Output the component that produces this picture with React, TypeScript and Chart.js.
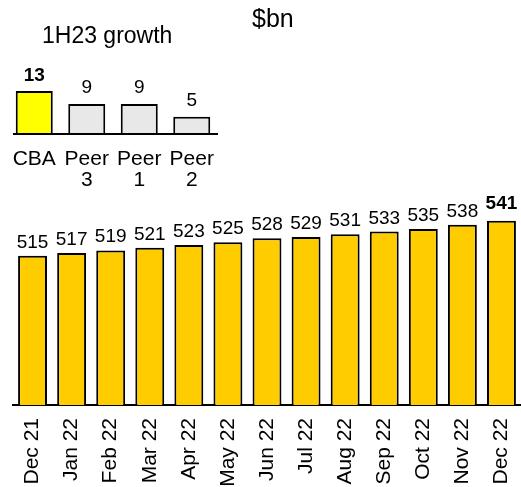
import React, { useEffect, useRef } from 'react';
import { Chart, registerables } from 'chart.js';

Chart.register(...registerables);

const FONT = '"Liberation Sans", Arial, Helvetica, sans-serif';

// ---- data ----
const months = ['Dec 21', 'Jan 22', 'Feb 22', 'Mar 22', 'Apr 22', 'May 22', 'Jun 22', 'Jul 22', 'Aug 22', 'Sep 22', 'Oct 22', 'Nov 22', 'Dec 22'];
const balances = [515, 517, 519, 521, 523, 525, 528, 529, 531, 533, 535, 538, 541];
const peerLabels: (string | string[])[] = ['CBA', ['Peer', '3'], ['Peer', '1'], ['Peer', '2']];
const growth = [13, 9, 9, 5];
const unitTitle = '$bn';
const insetTitle = '1H23 growth';

function makeValueLabels(size: number, gap: number, gapBold: number, boldIndex: number) {
  return {
    id: 'valueLabels',
    afterDatasetsDraw(chart: any) {
      const { ctx } = chart;
      const meta = chart.getDatasetMeta(0);
      const data = chart.data.datasets[0].data as number[];
      ctx.save();
      ctx.textAlign = 'center';
      ctx.textBaseline = 'alphabetic';
      ctx.fillStyle = '#000';
      meta.data.forEach((bar: any, i: number) => {
        const bold = i === boldIndex;
        ctx.font = `${bold ? 'bold ' : ''}${size}px ${FONT}`;
        ctx.fillText(String(data[i]), bar.x, bar.y - (bold ? gapBold : gap));
      });
      ctx.restore();
    },
  };
}

const titlesPlugin = {
  id: 'titles',
  afterDraw(chart: any) {
    const { ctx } = chart;
    ctx.save();
    ctx.fillStyle = '#000';
    ctx.textBaseline = 'alphabetic';
    ctx.textAlign = 'left';
    ctx.font = `25px ${FONT}`;
    ctx.fillText(unitTitle, 252, 27);
    ctx.font = `23px ${FONT}`;
    ctx.fillText(insetTitle, 42, 43);
    ctx.restore();
  },
};

const insetAxisLine = {
  id: 'insetAxisLine',
  afterDatasetsDraw(chart: any) {
    const { ctx, chartArea } = chart;
    ctx.save();
    ctx.strokeStyle = '#000';
    ctx.lineWidth = 2;
    ctx.beginPath();
    ctx.moveTo(chartArea.left + 5, chartArea.bottom + 1);
    ctx.lineTo(chartArea.right, chartArea.bottom + 1);
    ctx.stroke();
    ctx.restore();
  },
};

export default function App() {
  const mainRef = useRef<HTMLCanvasElement>(null);
  const insetRef = useRef<HTMLCanvasElement>(null);

  useEffect(() => {
    Chart.defaults.font.family = FONT;
    const main = new Chart(mainRef.current!, {
      type: 'bar',
      data: {
        labels: months,
        datasets: [
          {
            data: balances,
            backgroundColor: '#FFCC00',
            borderColor: '#000',
            borderWidth: 2,
            barPercentage: 0.74,
            categoryPercentage: 1,
          },
        ],
      },
      options: {
        responsive: false,
        animation: false,
        layout: { padding: { top: 200, left: 13, right: 0, bottom: 0 } },
        plugins: { legend: { display: false }, tooltip: { enabled: false } },
        scales: {
          x: {
            grid: { display: false, drawTicks: false },
            border: { display: true, color: '#000', width: 2 },
            ticks: {
              color: '#000',
              font: { size: 21, family: FONT },
              minRotation: 90,
              maxRotation: 90,
              padding: 13,
              autoSkip: false,
            },
            afterFit: (s: any) => {
              s.height = 82;
              s.paddingLeft = 0;
              s.paddingRight = 0;
            },
          },
          y: { display: false, min: 404, max: 556.5 },
        },
      },
      plugins: [makeValueLabels(19, 8, 12, balances.length - 1), titlesPlugin],
    });

    const inset = new Chart(insetRef.current!, {
      type: 'bar',
      data: {
        labels: peerLabels,
        datasets: [
          {
            data: growth,
            backgroundColor: ['#FFFF00', '#E8E8E8', '#E8E8E8', '#E8E8E8'],
            borderColor: '#000',
            borderWidth: 2,
            barPercentage: 0.705,
            categoryPercentage: 1,
          },
        ],
      },
      options: {
        responsive: false,
        animation: false,
        layout: { padding: { top: 60, left: 8, right: 12, bottom: 0 } },
        plugins: { legend: { display: false }, tooltip: { enabled: false } },
        scales: {
          x: {
            grid: { display: false, drawTicks: false },
            border: { display: false },
            ticks: {
              color: '#000',
              font: { size: 21, family: FONT, lineHeight: 1 },
              maxRotation: 0,
              minRotation: 0,
              padding: 16,
              autoSkip: false,
            },
            afterFit: (s: any) => {
              s.height = 67;
              s.paddingLeft = 0;
              s.paddingRight = 0;
            },
          },
          y: { display: false, min: 0, max: 22.6 },
        },
      },
      plugins: [makeValueLabels(19, 11, 10, 0), insetAxisLine],
    });

    return () => {
      main.destroy();
      inset.destroy();
    };
  }, []);

  return (
    <div style={{ position: 'fixed', left: 0, top: 0, width: 521, height: 487, background: '#fff' }}>
      <canvas ref={mainRef} width={521} height={487} style={{ position: 'absolute', left: 0, top: 0 }} />
      <canvas ref={insetRef} width={230} height={200} style={{ position: 'absolute', left: 0, top: 0 }} />
    </div>
  );
}
